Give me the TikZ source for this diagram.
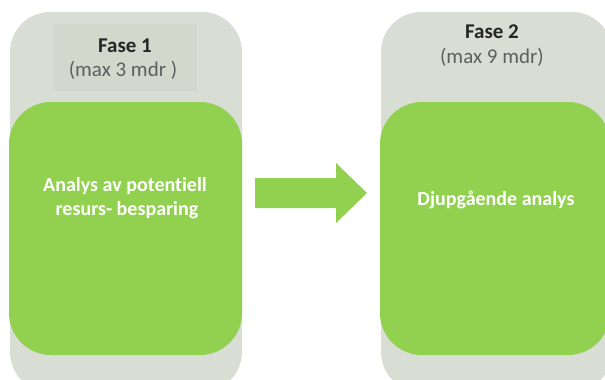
\documentclass[tikz,border=0pt]{standalone}
\usepackage{fontspec}
\setmainfont{Carlito}[Ligatures=CommonOff]
\definecolor{panelgray}{HTML}{D9DED5}
\definecolor{labelgray}{HTML}{D2D8CC}
\definecolor{leafgreen}{HTML}{92D050}
\definecolor{subgray}{HTML}{5F5F5F}
\begin{document}
\begin{tikzpicture}[x=1pt,y=-1pt,
  panel/.style={fill=panelgray,draw=none,rounded corners=40pt},
  greenbox/.style={fill=leafgreen,draw=none,rounded corners=42pt},
  title/.style={font=\fontsize{21}{25}\selectfont\bfseries,text=black!85,inner sep=0pt,anchor=base},
  sub/.style={font=\fontsize{21}{25}\selectfont,text=subgray,inner sep=0pt,anchor=base},
  inner/.style={font=\fontsize{20}{24}\selectfont\bfseries,text=white,inner sep=0pt,anchor=base}]
\useasboundingbox (0,0) rectangle (605,380);
\begin{scope}
\clip (0,0) rectangle (605,380);
% panels
\path[panel] (10,12) rectangle (242,392);
\path[panel] (381,12) rectangle (612,392);
\fill[labelgray] (54,24) rectangle (197,91);
% green boxes
\path[greenbox] (9,102) rectangle (242,355);
\path[greenbox] (380,102) rectangle (610,355);
% arrow
\fill[leafgreen] (255,178) -- (336,178) -- (336,163) -- (367,193) -- (336,223) -- (336,208) -- (255,208) -- cycle;
\end{scope}
\node[title] (f1) at (125,52) {Fase 1};
\node[sub] (m1) at (123,76) {(max 3 mdr )};
\node[title] (f2) at (492,38) {Fase 2};
\node[sub] (m2) at (492,63) {(max 9 mdr)};
\node[inner] (a1) at (125,191) {Analys av potentiell};
\node[inner] (a1b) at (127,215) {resurs- besparing};
\node[inner] (a2) at (496,205) {Djupgående analys};
\end{tikzpicture}
\end{document}
